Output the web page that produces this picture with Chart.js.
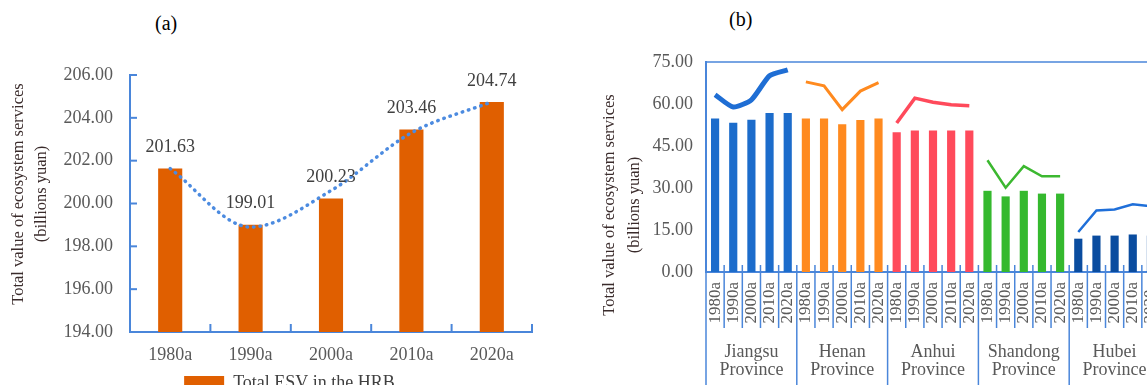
<!DOCTYPE html>
<html>
<head>
<meta charset="utf-8">
<script src="https://cdn.jsdelivr.net/npm/chart.js@4.4.0/dist/chart.umd.min.js"></script>
<style>
  html, body { margin: 0; padding: 0; background: #fff; overflow: hidden; }
  body { width: 1147px; height: 385px; position: relative; }
  .panel { position: absolute; top: 0; }
  #wrapA { left: 0; width: 579px; height: 402px; }
  #wrapB { left: 590px; width: 600px; height: 385px; }
  .tag { position: absolute; font: 20px 'Liberation Serif', serif; color: #000; }
</style>
</head>
<body>
<div class="tag" style="left:155px; top:12px;">(a)</div>
<div class="tag" style="left:729px; top:8px;">(b)</div>
<div id="wrapA" class="panel"><canvas id="chartA"></canvas></div>
<div id="wrapB" class="panel"><canvas id="chartB"></canvas></div>
<script>
// ---- data ----
var years = ['1980a', '1990a', '2000a', '2010a', '2020a'];
var totalEsv = [201.63, 199.01, 200.23, 203.46, 204.74];
var totalTrend = [201.63, 198.9, 200.6, 203.3, 204.75];
var esvMin = 194, esvMax = 206, esvStep = 2;

var provinces = ['Jiangsu Province', 'Henan Province', 'Anhui Province', 'Shandong Province', 'Hubei Province'];
var jiangsuBars = [54.8, 53.3, 54.4, 56.8, 56.8];
var henanBars = [54.8, 54.8, 52.8, 54.3, 54.8];
var anhuiBars = [49.9, 50.5, 50.5, 50.5, 50.5];
var shandongBars = [29.0, 27.0, 29.0, 28.0, 28.0];
var hubeiBars = [11.9, 13.0, 13.0, 13.4, 13.0];
var jiangsuLine = [63.3, 58.9, 61.5, 70.1, 72.2];
var henanLine = [67.9, 66.5, 58.0, 64.6, 67.6];
var anhuiLine = [53.2, 62.1, 60.6, 59.7, 59.4];
var shandongLine = [39.9, 30.1, 37.8, 34.2, 34.2];
var hubeiLine = [14.3, 22.0, 22.3, 24.2, 23.5];
var provMin = 0, provMax = 75, provStep = 15;

// ---- styles ----
var serif = "'Liberation Serif', 'Times New Roman', serif";
var axisBlue = '#4A86DA';
var tickGray = '#595959';
var titleDark = '#3a2b2b';
var barColors = ['#1C6CCB', '#FF8A1F', '#FF4A5B', '#35B92E', '#0A4C9F'];
var lineColors = ['#1F6ED4', '#FF8A1F', '#FF4A5B', '#3CB830', '#1F6FD9'];
var lineWidths = [5, 3, 3.5, 2.5, 2.5];

function drawYTitle(ctx, x1, x2, cy) {
    var lines = [['Total value of ecosystem services', x1], ['(billions yuan)', x2]];
    lines.forEach(function (l) {
        ctx.save();
        ctx.fillStyle = titleDark;
        ctx.font = '16.5px ' + serif;
        ctx.textAlign = 'center';
        ctx.textBaseline = 'middle';
        ctx.translate(l[1], cy);
        ctx.rotate(-Math.PI / 2);
        ctx.fillText(l[0], 0, 0);
        ctx.restore();
    });
}

// ---- chart (a) ----
var decorA = {
    id: 'decorA',
    afterDatasetsDraw: function (chart) {
        var ctx = chart.ctx;
        var meta = chart.getDatasetMeta(0);
        ctx.save();
        ctx.fillStyle = '#404040';
        ctx.font = '18px ' + serif;
        ctx.textAlign = 'center';
        ctx.textBaseline = 'middle';
        meta.data.forEach(function (el, i) {
            ctx.fillText(totalEsv[i].toFixed(2), el.x, el.y - 21);
        });
        ctx.restore();
    },
    afterDraw: function (chart) {
        var ctx = chart.ctx, area = chart.chartArea;
        var x = chart.scales.x, y = chart.scales.y;
        var slot = (area.right - area.left) / years.length;
        ctx.save();
        ctx.strokeStyle = axisBlue;
        ctx.lineWidth = 2;
        y.ticks.forEach(function (t) {
            var py = y.getPixelForValue(t.value);
            ctx.beginPath();
            ctx.moveTo(area.left, py);
            ctx.lineTo(area.left + 7, py);
            ctx.stroke();
        });
        for (var i = 0; i < years.length; i++) {
            var px = x.getPixelForValue(i) + slot / 2;
            ctx.beginPath();
            ctx.moveTo(px, area.bottom);
            ctx.lineTo(px, area.bottom - 8);
            ctx.stroke();
        }
        ctx.restore();
        drawYTitle(ctx, 19, 42, 194);
    }
};

new Chart(document.getElementById('chartA'), {
    data: {
        labels: years,
        datasets: [{
            type: 'bar',
            label: 'Total ESV in the HRB',
            data: totalEsv,
            backgroundColor: '#E05F00',
            borderWidth: 0,
            barPercentage: 0.3,
            categoryPercentage: 1,
            order: 1
        }, {
            type: 'line',
            label: 'trend',
            data: totalTrend,
            borderColor: '#4C8BE0',
            borderWidth: 3.5,
            borderDash: [0.5, 6],
            borderCapStyle: 'round',
            cubicInterpolationMode: 'monotone',
            pointRadius: 0,
            fill: false,
            order: 0
        }]
    },
    options: {
        responsive: true,
        maintainAspectRatio: false,
        animation: false,
        layout: { padding: { left: 0, right: 0, top: 75, bottom: 0 } },
        plugins: {
            tooltip: { enabled: false },
            legend: {
                position: 'bottom',
                labels: {
                    boxWidth: 40,
                    boxHeight: 14,
                    padding: 10,
                    color: '#404040',
                    font: { family: serif, size: 18 },
                    filter: function (item) { return item.datasetIndex === 0; }
                }
            }
        },
        scales: {
            x: {
                grid: { display: false, drawTicks: false },
                border: { color: axisBlue, width: 2 },
                ticks: { color: tickGray, padding: 12, font: { family: serif, size: 18 } },
                afterFit: function (s) { s.height = 32; }
            },
            y: {
                min: esvMin,
                max: esvMax,
                grid: { display: false, drawTicks: false },
                border: { color: axisBlue, width: 2 },
                ticks: {
                    stepSize: esvStep,
                    padding: 17,
                    color: tickGray,
                    font: { family: serif, size: 18 },
                    callback: function (v) { return v.toFixed(2); }
                },
                afterFit: function (s) { s.width = 130; }
            },
            yRight: {
                position: 'right',
                display: true,
                grid: { display: false, drawTicks: false },
                border: { display: false },
                ticks: { display: false },
                afterFit: function (s) { s.width = 47; }
            }
        }
    },
    plugins: [decorA]
});

// ---- chart (b) ----
var provinceBars = [jiangsuBars, henanBars, anhuiBars, shandongBars, hubeiBars];
var provinceLines = [jiangsuLine, henanLine, anhuiLine, shandongLine, hubeiLine];
var bLabels = [], barValues = [], barFill = [];
provinces.forEach(function (p, j) {
    years.forEach(function (yr, i) {
        bLabels.push(yr);
        barValues.push(provinceBars[j][i]);
        barFill.push(barColors[j]);
    });
});

var datasetsB = [{
    type: 'bar',
    label: 'ESV',
    data: barValues,
    backgroundColor: barFill,
    borderWidth: 0,
    barPercentage: 0.45,
    categoryPercentage: 1,
    order: 1
}];
provinces.forEach(function (p, j) {
    var arr = bLabels.map(function () { return null; });
    for (var i = 0; i < years.length; i++) arr[j * years.length + i] = provinceLines[j][i];
    datasetsB.push({
        type: 'line',
        label: p,
        data: arr,
        borderColor: lineColors[j],
        borderWidth: lineWidths[j],
        tension: j === 0 ? 0.2 : 0,
        pointRadius: 0,
        spanGaps: false,
        fill: false,
        order: 0
    });
});

var decorB = {
    id: 'decorB',
    afterDraw: function (chart) {
        var ctx = chart.ctx, area = chart.chartArea, x = chart.scales.x;
        var slot = (area.right - area.left) / bLabels.length;
        ctx.save();
        ctx.strokeStyle = axisBlue;
        ctx.lineWidth = 1.5;
        ctx.beginPath();
        ctx.moveTo(area.left, area.top);
        ctx.lineTo(area.right, area.top);
        ctx.stroke();
        for (var i = 1; i <= bLabels.length; i++) {
            var px = x.getPixelForValue(i) - slot / 2;
            var longLine = i % years.length === 0;
            ctx.beginPath();
            ctx.moveTo(px, area.bottom - 7);
            ctx.lineTo(px, longLine ? chart.height : area.bottom + 56);
            ctx.stroke();
        }
        ctx.beginPath();
        ctx.moveTo(area.left, area.bottom);
        ctx.lineTo(area.left, chart.height);
        ctx.stroke();
        ctx.fillStyle = tickGray;
        ctx.font = '18px ' + serif;
        ctx.textAlign = 'center';
        ctx.textBaseline = 'middle';
        provinces.forEach(function (p, j) {
            var cx = x.getPixelForValue(j * years.length + 2);
            var parts = p.split(' ');
            ctx.fillText(parts[0], cx, 352);
            ctx.fillText(parts[1], cx, 370);
        });
        ctx.restore();
        drawYTitle(ctx, 20, 45, 205);
    }
};

new Chart(document.getElementById('chartB'), {
    data: { labels: bLabels, datasets: datasetsB },
    options: {
        responsive: true,
        maintainAspectRatio: false,
        animation: false,
        layout: { padding: { left: 0, right: 30, top: 62, bottom: 0 } },
        plugins: { tooltip: { enabled: false }, legend: { display: false } },
        scales: {
            x: {
                grid: { display: false, drawTicks: false },
                border: { color: axisBlue, width: 2 },
                ticks: {
                    autoSkip: false,
                    minRotation: 90,
                    maxRotation: 90,
                    padding: 10,
                    color: tickGray,
                    font: { family: serif, size: 17 }
                },
                afterFit: function (s) { s.height = 113; }
            },
            y: {
                min: provMin,
                max: provMax,
                grid: { display: false, drawTicks: false },
                border: { color: axisBlue, width: 2 },
                ticks: {
                    stepSize: provStep,
                    padding: 13,
                    color: tickGray,
                    font: { family: serif, size: 18 },
                    callback: function (v) { return v.toFixed(2); }
                },
                afterFit: function (s) { s.width = 116; }
            }
        }
    },
    plugins: [decorB]
});
</script>
</body>
</html>
